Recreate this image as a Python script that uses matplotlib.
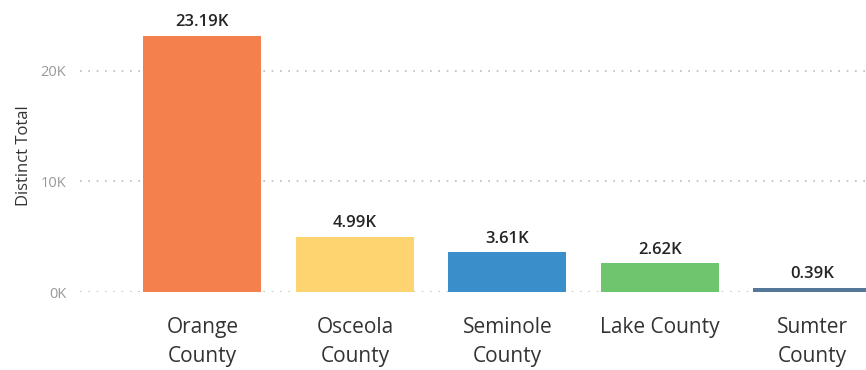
import matplotlib
matplotlib.use('Agg')
import matplotlib.pyplot as plt

# data
counties = ['Orange\nCounty', 'Osceola\nCounty', 'Seminole\nCounty', 'Lake County', 'Sumter\nCounty']
totals = [23190, 4990, 3610, 2620, 390]
value_labels = ['23.19K', '4.99K', '3.61K', '2.62K', '0.39K']
bar_colors = ['#F4814D', '#FDD46F', '#3A8FCB', '#6FC46E', '#557799']

plt.rcParams['font.family'] = ['Open Sans', 'DejaVu Sans']

fig = plt.figure(figsize=(8.66, 3.70), dpi=100)
ax = fig.add_axes([80 / 866, 78 / 370, 786 / 866, 272 / 370])

x = list(range(len(counties)))
ax.bar(x, totals, width=0.774, color=bar_colors, zorder=3)

for xi, v, lab in zip(x, totals, value_labels):
    ax.text(xi, v + 500, lab, ha='center', va='bottom', fontsize=12,
            fontweight='semibold', color='#252525')

ax.set_xlim(-0.803, 4.351)
ax.set_ylim(0, 24600)
ax.set_yticks([0, 10000, 20000])
ax.set_yticklabels(['0K', '10K', '20K'])
ax.set_xticks(x)
ax.set_xticklabels(counties, fontsize=15, color='#333333', linespacing=1.5)

ax.yaxis.grid(True, linestyle=(0, (1, 4)), color='#bbbbbb', linewidth=1.2, zorder=0)
ax.tick_params(axis='y', length=0, labelsize=10.5, labelcolor='#999999', pad=10)
ax.tick_params(axis='x', length=0, pad=18)
for s in ax.spines.values():
    s.set_visible(False)

ax.set_ylabel('Distinct Total', fontsize=12, color='#333333', labelpad=6)

fig.savefig('out.png', dpi=100)
